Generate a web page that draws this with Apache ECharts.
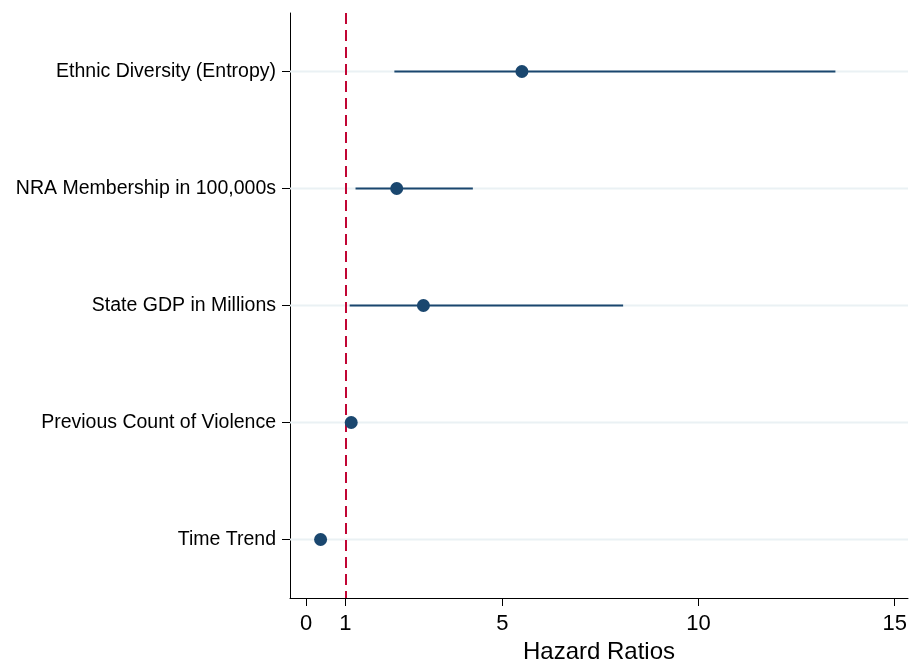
<!DOCTYPE html>
<html>
<head>
<meta charset="utf-8">
<script src="https://cdn.jsdelivr.net/npm/echarts@6/dist/echarts.min.js"></script>
<style>
  html, body { margin: 0; padding: 0; background: #fff; overflow: hidden; }
  #chart { position: absolute; left: 0; top: 0; width: 918px; height: 662px; }
</style>
</head>
<body>
<div id="chart"></div>
<script>
// Hazard ratios with 95% confidence intervals
const variables = [
  'Ethnic Diversity (Entropy)',
  'NRA Membership in 100,000s',
  'State GDP in Millions',
  'Previous Count of Violence',
  'Time Trend'
];
const hazardRatio = [5.50, 2.31, 2.99, 1.15, 0.37];
const ciLower     = [2.25, 1.26, 1.11, 1.10, 0.34];
const ciUpper     = [13.49, 4.25, 8.08, 1.20, 0.40];
const xTicks      = [0, 1, 5, 10, 15];
const referenceValue = 1;

const navy = '#1a476f';
const font = '"Liberation Sans", Arial, Helvetica, sans-serif';

const chart = echarts.init(document.getElementById('chart'), null, { renderer: 'canvas' });

const ciData = variables.map((v, i) => [ciLower[i], i, ciUpper[i]]);
const pointData = variables.map((v, i) => [hazardRatio[i], i]);

chart.setOption({
  animation: false,
  backgroundColor: '#ffffff',
  grid: { left: 290, right: 10, top: 13, height: 585, containLabel: false, outerBoundsMode: 'none' },
  xAxis: {
    type: 'value',
    min: -0.41,
    max: 15.34,
    name: 'Hazard Ratios',
    nameLocation: 'middle',
    nameGap: 41,
    nameTextStyle: { fontFamily: font, fontSize: 24, color: '#000' },
    axisLine: { show: true, onZero: false, lineStyle: { color: '#000', width: 1 } },
    axisTick: { show: true, length: 8, lineStyle: { color: '#000' }, customValues: xTicks },
    axisLabel: { fontFamily: font, fontSize: 22, color: '#000', margin: 15, customValues: xTicks },
    splitLine: { show: false }
  },
  yAxis: {
    type: 'category',
    data: variables,
    inverse: true,
    boundaryGap: true,
    axisLine: { show: true, onZero: false, lineStyle: { color: '#000', width: 1 } },
    axisTick: { show: true, length: 8, alignWithLabel: true, lineStyle: { color: '#000' } },
    axisLabel: { fontFamily: font, fontSize: 19.5, color: '#000', margin: 14 },
    splitLine: { show: false }
  },
  series: [
    {
      // light horizontal guides at each variable, plus the confidence interval
      type: 'custom',
      data: ciData,
      z: 2,
      renderItem: function (params, api) {
        const cs = params.coordSys;
        const lo = api.coord([api.value(0), api.value(1)]);
        const hi = api.coord([api.value(2), api.value(1)]);
        return {
          type: 'group',
          children: [
            {
              type: 'line',
              shape: { x1: cs.x, y1: lo[1], x2: cs.x + cs.width, y2: lo[1] },
              style: { stroke: '#eaf1f4', lineWidth: 2 },
              z2: 1
            },
            {
              type: 'line',
              shape: { x1: lo[0], y1: lo[1], x2: hi[0], y2: hi[1] },
              style: { stroke: navy, lineWidth: 2 },
              z2: 5
            }
          ]
        };
      },
      encode: { x: [0, 2], y: 1 }
    },
    {
      type: 'scatter',
      data: pointData,
      symbol: 'circle',
      symbolSize: 13,
      itemStyle: { color: navy, opacity: 1 },
      z: 5,
      markLine: {
        silent: true,
        symbol: 'none',
        label: { show: false },
        lineStyle: { color: '#c10534', width: 2, type: [11, 6] },
        data: [{ xAxis: referenceValue }],
        z: 3
      }
    }
  ]
});
</script>
</body>
</html>
